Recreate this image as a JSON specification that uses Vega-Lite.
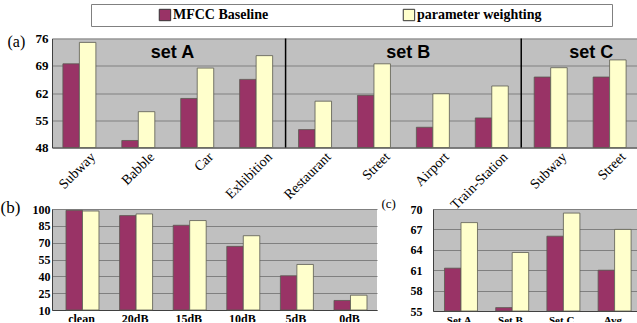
{
  "$schema": "https://vega.github.io/schema/vega-lite/v6.json",
  "padding": {"left": 0, "top": 3, "right": 0, "bottom": -3},
  "background": "white",
  "config": {
    "view": {"stroke": null},
    "axis": {
      "labelColor": "black", "titleColor": "black", "domainColor": "#404040", "domainWidth": 1,
      "gridColor": "#808080", "gridWidth": 1, "gridOpacity": 1, "ticks": false, "labelOverlap": false,
      "labelFont": "Liberation Serif", "titleFont": "Liberation Serif", "labelFontWeight": "bold", "titleFontWeight": "normal"
    }
  },
  "concat": [
    {
      "concat": [
        {
          "hconcat": [
            {"width": 38, "height": 22, "data": {"values": []}, "mark": "text", "view": {"stroke": null, "fill": null}},
            {
              "width": 521, "height": 22,
              "view": {"stroke": "#808080", "strokeWidth": 1, "fill": "white"},
              "data": {"values": [{"series": "MFCC Baseline"}, {"series": "parameter weighting"}]},
              "encoding": {
                "x": {"field": "series", "type": "nominal", "scale": {"type": "point", "padding": 0.5676, "align": 0.267}, "axis": null}
              },
              "layer": [
                {
                  "mark": {"type": "square", "size": 130, "stroke": "#333333", "strokeWidth": 1, "opacity": 1},
                  "encoding": {
                    "color": {"field": "series", "type": "nominal", "scale": {"domain": ["MFCC Baseline", "parameter weighting"], "range": ["#993366", "#ffffcc"]}, "legend": null}
                  }
                },
                {
                  "mark": {"type": "text", "align": "left", "baseline": "middle", "dx": 8, "font": "Liberation Serif", "fontWeight": "bold", "fontSize": 14, "color": "black"},
                  "encoding": {"text": {"field": "series"}}
                }
              ]
            }
          ],
          "spacing": 0
        },
        {
          "width": 585, "height": 109,
          "view": {"fill": "#c0c0c0", "stroke": null},
          "layer": [
            {
              "data": {"values": [
                {"cat": "Subway|A", "series": "MFCC Baseline", "value": 69.5},
                {"cat": "Subway|A", "series": "parameter weighting", "value": 75.0},
                {"cat": "Babble|A", "series": "MFCC Baseline", "value": 49.8},
                {"cat": "Babble|A", "series": "parameter weighting", "value": 57.2},
                {"cat": "Car|A", "series": "MFCC Baseline", "value": 60.6},
                {"cat": "Car|A", "series": "parameter weighting", "value": 68.4},
                {"cat": "Exhibition|A", "series": "MFCC Baseline", "value": 65.5},
                {"cat": "Exhibition|A", "series": "parameter weighting", "value": 71.6},
                {"cat": "Restaurant|B", "series": "MFCC Baseline", "value": 52.6},
                {"cat": "Restaurant|B", "series": "parameter weighting", "value": 59.9},
                {"cat": "Street|B", "series": "MFCC Baseline", "value": 61.4},
                {"cat": "Street|B", "series": "parameter weighting", "value": 69.5},
                {"cat": "Airport|B", "series": "MFCC Baseline", "value": 53.2},
                {"cat": "Airport|B", "series": "parameter weighting", "value": 61.8},
                {"cat": "Train-Station|B", "series": "MFCC Baseline", "value": 55.6},
                {"cat": "Train-Station|B", "series": "parameter weighting", "value": 63.8},
                {"cat": "Subway|C", "series": "MFCC Baseline", "value": 66.1},
                {"cat": "Subway|C", "series": "parameter weighting", "value": 68.5},
                {"cat": "Street|C", "series": "MFCC Baseline", "value": 66.1},
                {"cat": "Street|C", "series": "parameter weighting", "value": 70.5}
              ]},
              "mark": {"type": "bar", "stroke": "#5a5a50", "strokeWidth": 0.8},
              "encoding": {
                "x": {"field": "cat", "type": "nominal",
                  "scale": {"domain": ["Subway|A", "Babble|A", "Car|A", "Exhibition|A", "Restaurant|B", "Street|B", "Airport|B", "Train-Station|B", "Subway|C", "Street|C"], "paddingInner": 0.44, "paddingOuter": 0.185, "align": 0.5},
                  "axis": {"title": null, "labelExpr": "split(datum.label, '|')[0]", "labelAngle": -45, "labelAlign": "right", "labelBaseline": "top", "labelOffset": 9, "labelPadding": 2, "labelFontSize": 14, "labelFontWeight": "normal"}
                },
                "xOffset": {"field": "series", "type": "nominal", "scale": {"paddingInner": 0, "paddingOuter": 0}},
                "y": {"field": "value", "type": "quantitative",
                  "scale": {"domain": [48, 76], "zero": false, "nice": false},
                  "axis": {"values": [48, 55, 62, 69, 76], "tickCount": 20, "title": "(a)", "titleAngle": 0, "titleX": -45, "titleY": 3, "titleAlign": "left", "titleBaseline": "middle", "titleFontSize": 16, "labelFontSize": 13, "labelPadding": 4}
                },
                "y2": {"datum": 48},
                "color": {"field": "series", "type": "nominal", "scale": {"domain": ["MFCC Baseline", "parameter weighting"], "range": ["#993366", "#ffffcc"]}, "legend": null}
              }
            },
            {
              "data": {"values": [{"cat": "Restaurant|B"}, {"cat": "Subway|C"}]},
              "mark": {"type": "rule", "color": "black", "strokeWidth": 1.5},
              "encoding": {"x": {"field": "cat", "type": "nominal", "bandPosition": -0.393}}
            },
            {
              "data": {"values": [{"cat": "Car|A", "label": "set A"}, {"cat": "Airport|B", "label": "set B"}]},
              "mark": {"type": "text", "font": "Liberation Sans", "fontWeight": "bold", "fontSize": 18, "color": "black", "baseline": "middle", "align": "center"},
              "encoding": {
                "x": {"field": "cat", "type": "nominal", "bandPosition": -0.25},
                "y": {"datum": 72.2, "axis": {"values": [48, 55, 62, 69, 76], "tickCount": 20, "title": "(a)", "titleAngle": 0, "titleX": -45, "titleY": 3, "titleAlign": "left", "titleBaseline": "middle", "titleFontSize": 16, "labelFontSize": 13, "labelPadding": 4}},
                "text": {"field": "label"}
              }
            },
            {
              "data": {"values": [{"cat": "Street|C", "label": "set C"}]},
              "mark": {"type": "text", "font": "Liberation Sans", "fontWeight": "bold", "fontSize": 18, "color": "black", "baseline": "middle", "align": "center"},
              "encoding": {
                "x": {"field": "cat", "type": "nominal", "bandPosition": -0.06},
                "y": {"datum": 72.2, "axis": {"values": [48, 55, 62, 69, 76], "tickCount": 20, "title": "(a)", "titleAngle": 0, "titleX": -45, "titleY": 3, "titleAlign": "left", "titleBaseline": "middle", "titleFontSize": 16, "labelFontSize": 13, "labelPadding": 4}},
                "text": {"field": "label"}
              }
            }
          ]
        }
      ],
      "columns": 1, "align": "none", "spacing": 5.5
    },
    {
      "hconcat": [
        {
          "width": 325, "height": 101,
          "view": {"fill": "#c0c0c0", "stroke": null},
          "data": {"values": [
            {"cat": "clean", "series": "MFCC Baseline", "value": 98.8},
            {"cat": "clean", "series": "parameter weighting", "value": 98.2},
            {"cat": "20dB", "series": "MFCC Baseline", "value": 94.1},
            {"cat": "20dB", "series": "parameter weighting", "value": 95.6},
            {"cat": "15dB", "series": "MFCC Baseline", "value": 85.5},
            {"cat": "15dB", "series": "parameter weighting", "value": 89.7},
            {"cat": "10dB", "series": "MFCC Baseline", "value": 66.7},
            {"cat": "10dB", "series": "parameter weighting", "value": 76.2},
            {"cat": "5dB", "series": "MFCC Baseline", "value": 40.5},
            {"cat": "5dB", "series": "parameter weighting", "value": 50.6},
            {"cat": "0dB", "series": "MFCC Baseline", "value": 18.5},
            {"cat": "0dB", "series": "parameter weighting", "value": 23.2}
          ]},
          "mark": {"type": "bar", "stroke": "#5a5a50", "strokeWidth": 0.8},
          "encoding": {
            "x": {"field": "cat", "type": "nominal",
              "scale": {"domain": ["clean", "20dB", "15dB", "10dB", "5dB", "0dB"], "paddingInner": 0.42, "paddingOuter": 0.2416, "align": 0.54},
              "axis": {"title": null, "labelAngle": 0, "labelBaseline": "top", "labelPadding": 3, "labelFontSize": 12}
            },
            "xOffset": {"field": "series", "type": "nominal", "scale": {"paddingInner": 0, "paddingOuter": 0}},
            "y": {"field": "value", "type": "quantitative",
              "scale": {"domain": [10, 100], "zero": false, "nice": false},
              "axis": {"values": [10, 25, 40, 55, 70, 85, 100], "tickCount": 20, "title": "(b)", "titleAngle": 0, "titleX": -52, "titleY": -2, "titleAlign": "left", "titleBaseline": "middle", "titleFontSize": 17, "labelFontSize": 12, "labelPadding": 2}
            },
            "y2": {"datum": 10},
            "color": {"field": "series", "type": "nominal", "scale": {"domain": ["MFCC Baseline", "parameter weighting"], "range": ["#993366", "#ffffcc"]}, "legend": null}
          }
        },
        {
          "width": 204, "height": 102,
          "view": {"fill": "#c0c0c0", "stroke": null},
          "data": {"values": [
            {"cat": "Set A", "series": "MFCC Baseline", "value": 61.3},
            {"cat": "Set A", "series": "parameter weighting", "value": 68.0},
            {"cat": "Set B", "series": "MFCC Baseline", "value": 55.5},
            {"cat": "Set B", "series": "parameter weighting", "value": 63.6},
            {"cat": "Set C", "series": "MFCC Baseline", "value": 66.0},
            {"cat": "Set C", "series": "parameter weighting", "value": 69.4},
            {"cat": "Avg", "series": "MFCC Baseline", "value": 61.0},
            {"cat": "Avg", "series": "parameter weighting", "value": 67.0}
          ]},
          "mark": {"type": "bar", "stroke": "#5a5a50", "strokeWidth": 0.8},
          "encoding": {
            "x": {"field": "cat", "type": "nominal",
              "scale": {"domain": ["Set A", "Set B", "Set C", "Avg"], "paddingInner": 0.424, "paddingOuter": 0.204, "align": 0.55},
              "axis": {"title": null, "labelAngle": 0, "labelBaseline": "top", "labelPadding": 3, "labelFontSize": 11}
            },
            "xOffset": {"field": "series", "type": "nominal", "scale": {"paddingInner": 0, "paddingOuter": 0}},
            "y": {"field": "value", "type": "quantitative",
              "scale": {"domain": [55, 70], "zero": false, "nice": false},
              "axis": {"values": [55, 58, 61, 64, 67, 70], "tickCount": 20, "title": "(c)", "titleAngle": 0, "titleX": -52, "titleY": -6, "titleAlign": "left", "titleBaseline": "middle", "titleFontSize": 13, "labelFontSize": 12, "labelPadding": 11}
            },
            "y2": {"datum": 55},
            "color": {"field": "series", "type": "nominal", "scale": {"domain": ["MFCC Baseline", "parameter weighting"], "range": ["#993366", "#ffffcc"]}, "legend": null}
          }
        }
      ],
      "spacing": 4
    }
  ],
  "columns": 1, "align": "none", "spacing": -15
}
